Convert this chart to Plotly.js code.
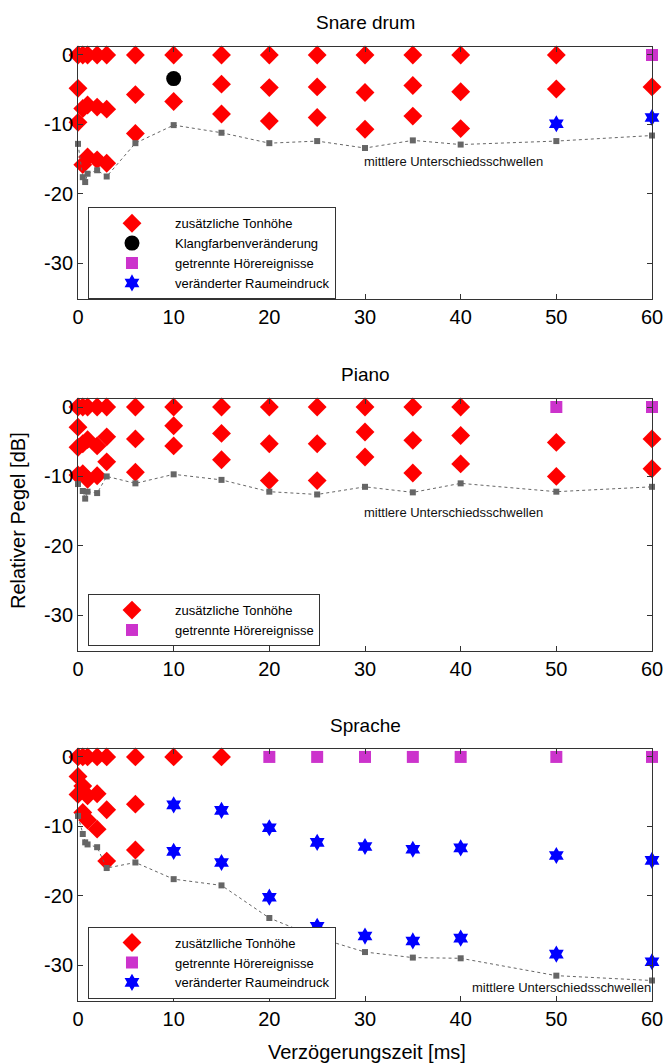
<!DOCTYPE html>
<html>
<head>
<meta charset="utf-8">
<script src="https://cdn.plot.ly/plotly-3.0.1.min.js"></script>
<style>html,body{margin:0;padding:0;background:#fff}#chart{width:666px;height:1063px}</style>
</head>
<body>
<div id="chart"></div>
<script>
// ---------- data ----------
var xTicks = [0, 10, 20, 30, 40, 50, 60];
var xTickText = ['0', '10', '20', '30', '40', '50', '60'];
var yTicks = [0, -10, -20, -30];
var yTickText = ['0', '-10', '-20', '-30'];

var titles = ['Snare drum', 'Piano', 'Sprache'];
var thresholdLabel = 'mittlere Unterschiedsschwellen';

// Snare drum
var snareTonX = [0,0,0, 0.5,0.5,0.5, 1,1,1, 2,2,2, 3,3,3, 6,6,6, 10,10, 15,15,15, 20,20,20, 25,25,25, 30,30,30, 35,35,35, 40,40,40, 50,50, 60];
var snareTonY = [0,-4.8,-9.7, 0,-7.7,-15.8, 0,-7.2,-14.7, 0,-7.5,-15.1, 0,-7.8,-15.6, 0,-5.7,-11.3, 0,-6.7, 0,-4.2,-8.5, 0,-4.7,-9.5, 0,-4.6,-9.0, 0,-5.4,-10.7, 0,-4.4,-8.8, 0,-5.3,-10.6, 0,-4.9, -4.6];
var snareKlangX = [10];
var snareKlangY = [-3.4];
var snareGetrX = [60];
var snareGetrY = [0];
var snareRaumX = [50, 60];
var snareRaumY = [-9.9, -9.0];
var snareThrX = [0, 0.5, 0.75, 1, 2, 3, 6, 10, 15, 20, 25, 30, 35, 40, 50, 60];
var snareThrY = [-12.8, -17.6, -18.3, -17.1, -16.6, -17.5, -12.7, -10.1, -11.2, -12.7, -12.4, -13.4, -12.3, -12.9, -12.4, -11.6];

// Piano
var pianoTonX = [0,0,0,0, 0.5,0.5,0.5, 1,1,1, 2,2,2, 3,3,3, 6,6,6, 10,10,10, 15,15,15, 20,20,20, 25,25,25, 30,30,30, 35,35,35, 40,40,40, 50,50, 60,60];
var pianoTonY = [0,-2.9,-5.8,-9.8, 0,-5.3,-9.6, 0,-4.7,-10.4, 0,-5.6,-9.9, 0,-4.3,-7.9, 0,-4.6,-9.4, 0,-2.7,-5.6, 0,-3.8,-7.6, 0,-5.3,-10.6, 0,-5.3,-10.6, 0,-3.6,-7.2, 0,-4.8,-9.5, 0,-4.1,-8.2, -5.1,-10.0, -4.6,-8.9];
var pianoGetrX = [50, 60];
var pianoGetrY = [0, 0];
var pianoThrX = [0, 0.5, 0.75, 1, 2, 3, 6, 10, 15, 20, 25, 30, 35, 40, 50, 60];
var pianoThrY = [-11.1, -12.1, -13.2, -12.2, -12.4, -10.0, -11.0, -9.7, -10.5, -12.2, -12.6, -11.5, -12.3, -11.0, -12.2, -11.5];

// Sprache
var sprTonX = [0,0,0, 0.5,0.5,0.5, 1,1,1, 2,2,2, 3,3,3, 6,6,6, 10, 15];
var sprTonY = [0,-2.8,-5.4, 0,-4.2,-8.0, 0,-5.6,-9.1, 0,-5.3,-10.4, 0,-7.6,-15.0, 0,-6.8,-13.4, 0, 0];
var sprGetrX = [20, 25, 30, 35, 40, 50, 60];
var sprGetrY = [0, 0, 0, 0, 0, 0, 0];
var sprRaumX = [10,10, 15,15, 20,20, 25,25, 30,30, 35,35, 40,40, 50,50, 60,60];
var sprRaumY = [-6.9,-13.6, -7.7,-15.2, -10.2,-20.2, -12.3,-24.4, -12.9,-25.8, -13.3,-26.5, -13.1,-26.1, -14.2,-28.4, -14.9,-29.5];
var sprThrX = [0, 0.5, 0.75, 1, 2, 3, 6, 10, 15, 20, 25, 30, 35, 40, 50, 60];
var sprThrY = [-8.5, -11.1, -12.3, -12.6, -13.0, -16.0, -15.2, -17.6, -18.5, -23.2, -26.0, -28.1, -28.9, -29.0, -31.5, -32.2];

// ---------- styles ----------
var FONT = 'Liberation Sans, Arial, Helvetica, sans-serif';
var RED = 'rgb(255,0,0)', MAG = 'rgb(204,51,204)', BLUE = 'rgb(0,0,255)', GRAY = 'rgb(102,102,102)';

function ton(x, y, xa, ya, lg, name) {
  return {x: x, y: y, xaxis: xa, yaxis: ya, legend: lg, name: name, type: 'scatter', mode: 'markers', cliponaxis: false,
    marker: {symbol: 'diamond', size: 14.5, color: RED}};
}
function klang(x, y, xa, ya, lg, name) {
  return {x: x, y: y, xaxis: xa, yaxis: ya, legend: lg, name: name, type: 'scatter', mode: 'markers', cliponaxis: false,
    marker: {symbol: 'circle', size: 15, color: 'black'}};
}
function getr(x, y, xa, ya, lg, name) {
  return {x: x, y: y, xaxis: xa, yaxis: ya, legend: lg, name: name, type: 'scatter', mode: 'markers', cliponaxis: false,
    marker: {symbol: 'square', size: 12, color: MAG}};
}
function raum(x, y, xa, ya, lg, name) {
  return {x: x, y: y, xaxis: xa, yaxis: ya, legend: lg, name: name, type: 'scatter', mode: 'markers', cliponaxis: false,
    marker: {symbol: 'hexagram', size: 13, color: BLUE}};
}
function thr(x, y, xa, ya) {
  return {x: x, y: y, xaxis: xa, yaxis: ya, type: 'scatter', mode: 'lines+markers', showlegend: false, cliponaxis: false,
    line: {color: GRAY, width: 1, dash: 'dot'}, marker: {symbol: 'square', size: 6, color: GRAY}};
}

var traces = [
  ton(snareTonX, snareTonY, 'x', 'y', 'legend', 'zusätzliche Tonhöhe'),
  klang(snareKlangX, snareKlangY, 'x', 'y', 'legend', 'Klangfarbenveränderung'),
  getr(snareGetrX, snareGetrY, 'x', 'y', 'legend', 'getrennte Hörereignisse'),
  raum(snareRaumX, snareRaumY, 'x', 'y', 'legend', 'veränderter Raumeindruck'),
  thr(snareThrX, snareThrY, 'x', 'y'),

  ton(pianoTonX, pianoTonY, 'x2', 'y2', 'legend2', 'zusätzliche Tonhöhe'),
  getr(pianoGetrX, pianoGetrY, 'x2', 'y2', 'legend2', 'getrennte Hörereignisse'),
  thr(pianoThrX, pianoThrY, 'x2', 'y2'),

  ton(sprTonX, sprTonY, 'x3', 'y3', 'legend3', 'zusätzlliche Tonhöhe'),
  getr(sprGetrX, sprGetrY, 'x3', 'y3', 'legend3', 'getrennte Hörereignisse'),
  raum(sprRaumX, sprRaumY, 'x3', 'y3', 'legend3', 'veränderter Raumeindruck'),
  thr(sprThrX, sprThrY, 'x3', 'y3')
];

function xax(anchor) {
  return {anchor: anchor, domain: [0, 1], range: [0, 60], tickvals: xTicks, ticktext: xTickText,
    ticks: 'inside', ticklen: 5, tickcolor: '#333', mirror: 'ticks', showline: true, linecolor: '#333', linewidth: 1,
    showgrid: false, zeroline: false, tickfont: {family: FONT, size: 20, color: '#000'}};
}
function yax(anchor, dom) {
  return {anchor: anchor, domain: dom, range: [-35.15, 1.15], tickvals: yTicks, ticktext: yTickText,
    ticks: 'inside', ticklen: 5, tickcolor: '#333', mirror: 'ticks', showline: true, linecolor: '#333', linewidth: 1,
    showgrid: false, zeroline: false, tickfont: {family: FONT, size: 20, color: '#000'}};
}
function leg(y) {
  return {x: 0.0174, y: y, xanchor: 'left', yanchor: 'top', xref: 'paper', yref: 'paper',
    bgcolor: 'white', bordercolor: '#333', borderwidth: 1, itemwidth: 76,
    font: {family: FONT, size: 13, color: '#000'}, itemclick: false};
}
function title(text, y) {
  return {text: text, xref: 'paper', yref: 'paper', x: 0.5, y: y, xanchor: 'center', yanchor: 'middle',
    showarrow: false, font: {family: FONT, size: 19, color: '#000'}};
}
function thrNote(xa, ya, x, y) {
  return {text: thresholdLabel, xref: xa, yref: ya, x: x, y: y, xanchor: 'center', yanchor: 'middle',
    showarrow: false, font: {family: FONT, size: 13, color: '#111'}};
}

var layout = {
  width: 666, height: 1063,
  margin: {l: 78, r: 14, t: 47, b: 62},
  paper_bgcolor: 'white', plot_bgcolor: 'white',
  font: {family: FONT, color: '#000'},
  showlegend: true,
  xaxis: xax('y'), yaxis: yax('x', [0.7358, 1]),
  xaxis2: xax('y2'), yaxis2: yax('x2', [0.3669, 0.6310]),
  xaxis3: xax('y3'), yaxis3: yax('x3', [0, 0.2642]),
  legend: leg(0.8320), legend2: leg(0.4265), legend3: leg(0.0780),
  annotations: [
    title(titles[0], 1.0262), title(titles[1], 0.6562), title(titles[2], 0.2893),
    thrNote('x', 'y', 39.3, -15.3), thrNote('x2', 'y2', 39.3, -15.2), thrNote('x3', 'y3', 50.5, -33.2),
    {text: 'Verzögerungszeit [ms]', xref: 'paper', yref: 'paper', x: 0.504, y: -0.0535, xanchor: 'center', yanchor: 'middle',
     showarrow: false, font: {family: FONT, size: 20, color: '#000'}},
    {text: 'Relativer Pegel [dB]', xref: 'paper', yref: 'paper', x: -0.1045, y: 0.5031, xanchor: 'center', yanchor: 'middle',
     textangle: -90, showarrow: false, font: {family: FONT, size: 20, color: '#000'}}
  ]
};

Plotly.newPlot('chart', traces, layout, {displayModeBar: false, staticPlot: true});
</script>
</body>
</html>
